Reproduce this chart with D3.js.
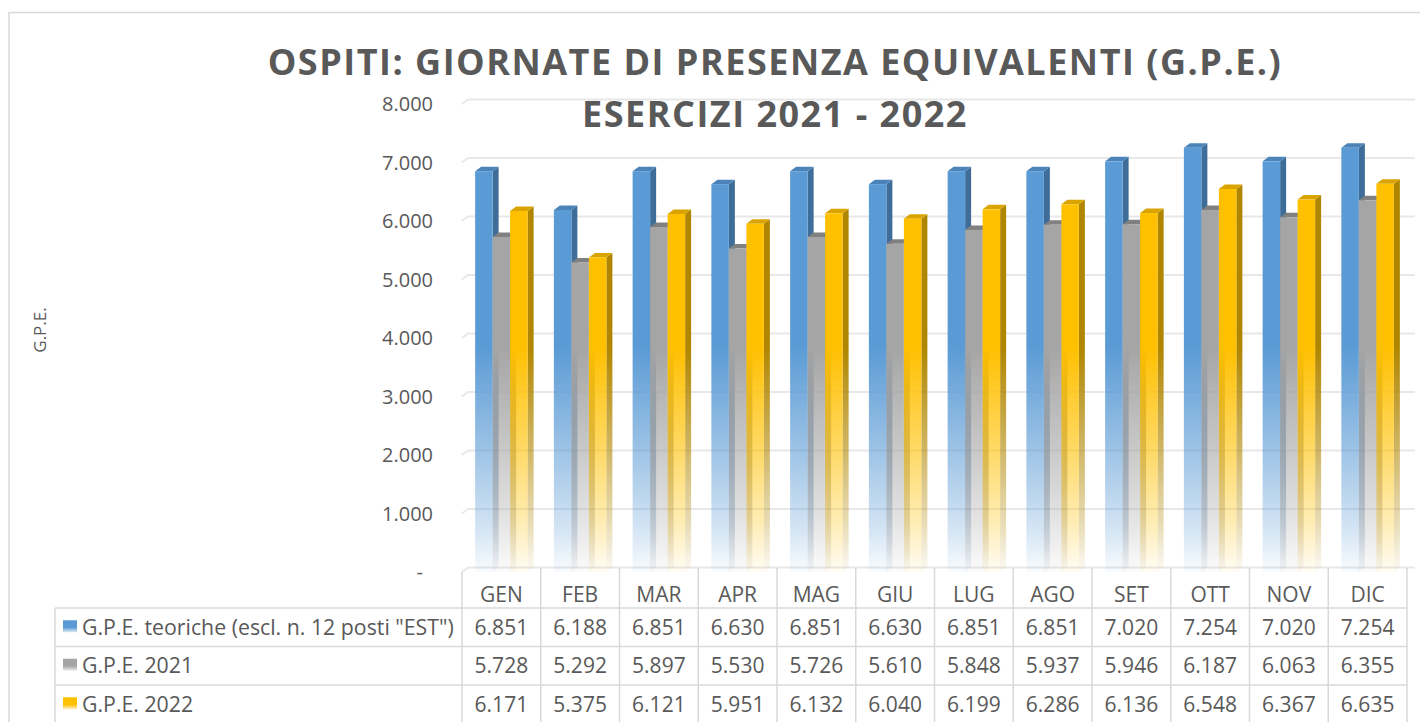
<!DOCTYPE html>
<html>
<head>
<meta charset="utf-8">
<script src="https://cdn.jsdelivr.net/npm/d3@7"></script>
<style>
  body { margin: 0; background: #fff; }
  svg text { font-family: "Open Sans", "DejaVu Sans", sans-serif; fill: #595959; }
</style>
</head>
<body>
<div id="chart"></div>
<script>
// data
const months = ["GEN", "FEB", "MAR", "APR", "MAG", "GIU", "LUG", "AGO", "SET", "OTT", "NOV", "DIC"];
const seriesNames = ["G.P.E. teoriche (escl. n. 12 posti \"EST\")", "G.P.E. 2021", "G.P.E. 2022"];
const teoriche = [6851, 6188, 6851, 6630, 6851, 6630, 6851, 6851, 7020, 7254, 7020, 7254];
const gpe2021 = [5728, 5292, 5897, 5530, 5726, 5610, 5848, 5937, 5946, 6187, 6063, 6355];
const gpe2022 = [6171, 5375, 6121, 5951, 6132, 6040, 6199, 6286, 6136, 6548, 6367, 6635];
const yTicks = [0, 1000, 2000, 3000, 4000, 5000, 6000, 7000, 8000];
const titleLines = ["OSPITI: GIORNATE DI PRESENZA EQUIVALENTI (G.P.E.)", "ESERCIZI 2021 - 2022"];

function drawChart(id) {
    let width = 1420, height = 722;
    let values = [teoriche, gpe2021, gpe2022];
    let colors = [
        { front: "#5B9BD5", side: "#3F6D99", top: "#4C83B9" },
        { front: "#A5A5A5", side: "#777777", top: "#808080" },
        { front: "#FFC000", side: "#B08600", top: "#D9A300" }
    ];
    // 3d depth of the bars / back wall
    let dx = 6, dy = -4.5;
    let plotLeft = 462, plotRight = 1407, plotTop = 104, plotBottom = 572;
    let rowTop = 608, rowH = 38.5;

    var svg = d3.select("#" + id)
        .append("svg")
            .attr("width", width)
            .attr("height", height);

    // outer chart border
    svg.append("rect")
        .attr("x", 9).attr("y", 12.5)
        .attr("width", 1430).attr("height", 720)
        .attr("fill", "none")
        .attr("stroke", "#d9d9d9")
        .attr("stroke-width", 1.5);

    var defs = svg.append("defs");

    var x = d3.scaleBand()
        .domain(months)
        .range([plotLeft, plotRight])
        .paddingInner(1 / 3)
        .paddingOuter(1 / 6);

    var x1 = d3.scaleBand()
        .domain(d3.range(values.length))
        .range([0, x.bandwidth()]);

    var y = d3.scaleLinear()
        .domain([0, 8000])
        .range([plotBottom, plotTop]);

    // gradients fading the bars to white at the floor
    colors.forEach(function (c, i) {
        ["front", "side"].forEach(function (face) {
            let g = defs.append("linearGradient")
                .attr("id", "grad" + i + face)
                .attr("gradientUnits", "userSpaceOnUse")
                .attr("x1", 0).attr("x2", 0)
                .attr("y1", y(8000)).attr("y2", y(0));
            g.append("stop").attr("offset", 0).attr("stop-color", c[face]).attr("stop-opacity", 1);
            g.append("stop").attr("offset", 0.52).attr("stop-color", c[face]).attr("stop-opacity", 1);
            g.append("stop").attr("offset", 0.74).attr("stop-color", c[face]).attr("stop-opacity", 0.6);
            g.append("stop").attr("offset", 0.9).attr("stop-color", c[face]).attr("stop-opacity", 0.28);
            g.append("stop").attr("offset", 1).attr("stop-color", c[face]).attr("stop-opacity", 0.04);
        });
        let k = defs.append("linearGradient")
            .attr("id", "key" + i)
            .attr("x1", 0).attr("x2", 0).attr("y1", 0).attr("y2", 1);
        k.append("stop").attr("offset", 0).attr("stop-color", c.front);
        k.append("stop").attr("offset", 0.6).attr("stop-color", c.front);
        k.append("stop").attr("offset", 1).attr("stop-color", c.front).attr("stop-opacity", 0.2);
    });

    // title
    svg.append("g")
        .selectAll("text")
        .data(titleLines)
        .enter()
        .append("text")
            .attr("x", 775)
            .attr("y", function (d, i) { return 75 + i * 52; })
            .attr("text-anchor", "middle")
            .style("font-size", "36px")
            .style("font-weight", "bold")
            .style("letter-spacing", "1.5px")
            .text(function (d) { return d; });

    // gridlines on the back wall
    svg.append("g")
        .selectAll("path")
        .data(yTicks)
        .enter()
        .append("path")
            .attr("d", function (d) {
                return "M" + plotLeft + "," + y(d) + "L" + (plotLeft + dx) + "," + (y(d) + dy) + "H" + (plotRight + 8);
            })
            .attr("fill", "none")
            .attr("stroke", "#e8e8e8")
            .attr("stroke-width", 2);

    // y tick labels
    svg.append("g")
        .selectAll("text")
        .data(yTicks)
        .enter()
        .append("text")
            .attr("x", function (d) { return d == 0 ? 423 : 433; })
            .attr("y", function (d) { return y(d); })
            .attr("dy", "0.35em")
            .attr("text-anchor", "end")
            .style("font-size", "20px")
            .text(function (d) { return d == 0 ? "-" : d3.format(",")(d).replace(/,/g, "."); });

    // y axis title
    svg.append("text")
        .attr("transform", "translate(46,330) rotate(-90)")
        .attr("text-anchor", "middle")
        .style("font-size", "17px")
        .text("G.P.E.");

    // 3d bars
    var bars = svg.append("g");
    months.forEach(function (m, mi) {
        values.forEach(function (serie, si) {
            let v = serie[mi];
            let x0 = x(m) + x1(si), w = x1.bandwidth();
            let yt = y(v), yb = y(0);
            let g = bars.append("g");
            g.append("path")
                .attr("d", "M" + (x0 + w) + "," + yb + "L" + (x0 + w) + "," + yt + "L" + (x0 + w + dx) + "," + (yt + dy) +
                    "L" + (x0 + w + dx) + "," + (yb + dy) + "Z")
                .attr("fill", "url(#grad" + si + "side)");
            g.append("path")
                .attr("d", "M" + x0 + "," + yt + "L" + (x0 + dx) + "," + (yt + dy) + "L" + (x0 + w + dx) + "," + (yt + dy) +
                    "L" + (x0 + w) + "," + yt + "Z")
                .attr("fill", colors[si].top);
            g.append("rect")
                .attr("x", x0).attr("y", yt)
                .attr("width", w).attr("height", yb - yt)
                .attr("fill", "url(#grad" + si + "front)");
        });
    });

    // data table
    var table = svg.append("g").attr("stroke", "#d9d9d9").attr("stroke-width", 1.5);
    let colEdges = months.map(function (m) { return x(m) - x.step() * x.paddingOuter(); });
    colEdges.push(plotRight);
    colEdges.forEach(function (cx) {
        table.append("line")
            .attr("x1", cx).attr("x2", cx)
            .attr("y1", cx == plotLeft ? plotBottom : plotBottom - 4).attr("y2", height);
    });
    table.append("line").attr("x1", 55).attr("x2", 55).attr("y1", rowTop).attr("y2", height);
    for (let r = 0; r <= 3; r++) {
        table.append("line")
            .attr("x1", 55).attr("x2", plotRight)
            .attr("y1", rowTop + r * rowH).attr("y2", rowTop + r * rowH);
    }

    // month labels
    svg.append("g")
        .selectAll("text")
        .data(months)
        .enter()
        .append("text")
            .attr("x", function (d) { return x(d) + x.bandwidth() / 2; })
            .attr("y", 602)
            .attr("text-anchor", "middle")
            .style("font-size", "21px")
            .text(function (d) { return d; });

    // rows: legend key, series name and values
    values.forEach(function (serie, si) {
        let cy = rowTop + si * rowH + rowH / 2;
        svg.append("rect")
            .attr("x", 63).attr("y", cy - 7)
            .attr("width", 14).attr("height", 12)
            .attr("fill", "url(#key" + si + ")");
        svg.append("text")
            .attr("x", 82).attr("y", cy)
            .attr("dy", "0.35em")
            .style("font-size", "21.3px")
            .text(seriesNames[si]);
        svg.append("g")
            .selectAll("text")
            .data(serie)
            .enter()
            .append("text")
                .attr("x", function (d, i) { return x(months[i]) + x.bandwidth() / 2; })
                .attr("y", cy)
                .attr("dy", "0.35em")
                .attr("text-anchor", "middle")
                .style("font-size", "21px")
                .text(function (d) { return d3.format(",")(d).replace(/,/g, "."); });
    });
}

drawChart("chart");
</script>
</body>
</html>
